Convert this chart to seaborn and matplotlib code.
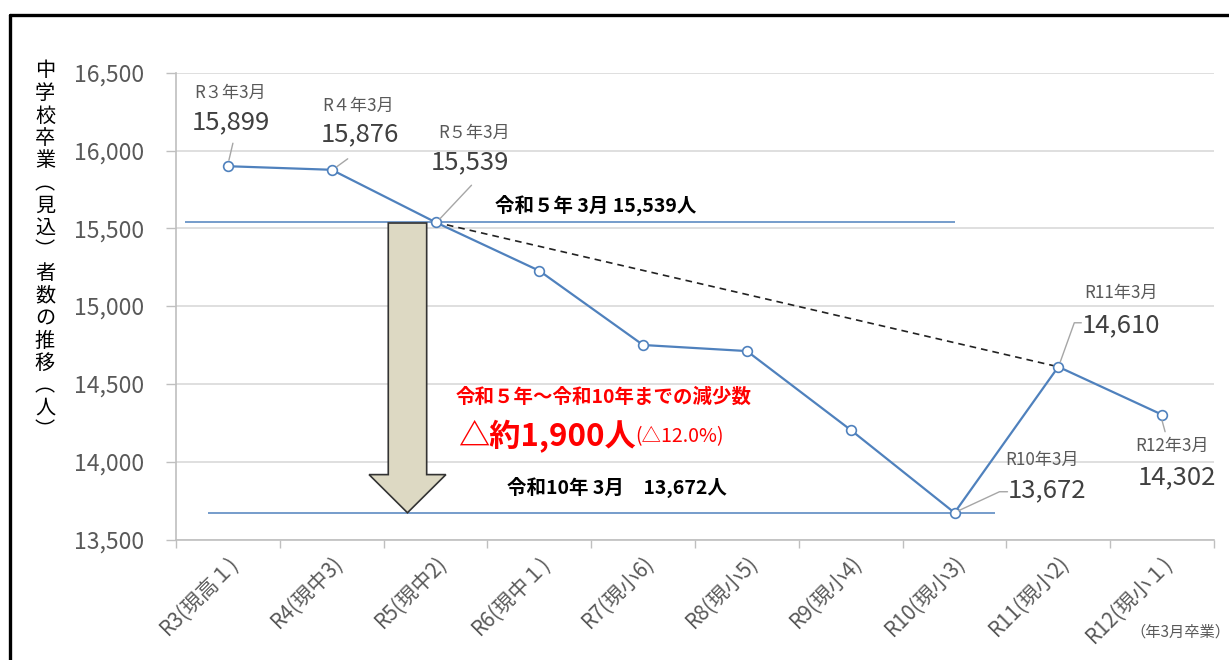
import matplotlib
matplotlib.use("Agg")
import matplotlib.pyplot as plt
import matplotlib.transforms as mtransforms
import seaborn as sns
import pandas as pd
from matplotlib.patches import FancyArrow
from matplotlib.lines import Line2D

# ---- data ----
categories = ["R3(現高１)", "R4(現中3)", "R5(現中2)", "R6(現中１)", "R7(現小6)",
              "R8(現小5)", "R9(現小4)", "R10(現小3)", "R11(現小2)", "R12(現小１)"]
students = [15899, 15876, 15539, 15227, 14750, 14711, 14204, 13672, 14610, 14302]
label_years = ["R３年3月", "R４年3月", "R５年3月", None, None, None, None,
               "R10年3月", "R11年3月", "R12年3月"]
trend_idx = [2, 8]          # dashed reference line R5 -> R11
ref_r5 = 15539
ref_r10 = 13672
yticks = [13500, 14000, 14500, 15000, 15500, 16000, 16500]

sns.set_theme(style="white")
plt.rcParams['font.family'] = ['Noto Sans CJK JP', 'DejaVu Sans']

BLUE = "#4F81BD"
GRAY = "#595959"
DGRAY = "#404040"

fig = plt.figure(figsize=(12.29, 6.6), dpi=100)
ax = fig.add_axes([176/1229, 1-539.5/660, (1214-176)/1229, (539.5-72.7)/660])

df = pd.DataFrame({"x": range(len(categories)), "y": students})
sns.lineplot(data=df, x="x", y="y", ax=ax, color=BLUE, lw=1.6, marker="o",
             markersize=7, markerfacecolor="white", markeredgecolor=BLUE,
             markeredgewidth=1.2, zorder=5)

# dashed trend line
ax.plot([trend_idx[0], trend_idx[1]], [students[trend_idx[0]], students[trend_idx[1]]],
        ls=(0, (4, 3)), color="#222222", lw=1.2, zorder=4)

# horizontal reference lines
ax.hlines(ref_r5, -0.41, 7.0, color=BLUE, lw=1.1, zorder=3)
ax.hlines(ref_r10, -0.19, 7.39, color=BLUE, lw=1.1, zorder=3)

# down arrow
ax.add_patch(FancyArrow(1.73, ref_r5 - 5, 0, ref_r10 - ref_r5 + 5, width=0.37,
                        head_width=0.74, head_length=245, length_includes_head=True,
                        facecolor="#DDD9C3", edgecolor="#333333", lw=1.2, zorder=6))

# axes styling
ax.set_xlim(-0.5, len(categories) - 0.5)
ax.set_ylim(yticks[0], yticks[-1])
ax.set_yticks(yticks)
ax.set_yticklabels([f"{v:,}" for v in yticks], fontsize=16.5, color=GRAY)
ax.yaxis.grid(True, color="#D9D9D9", lw=1.2)
ax.set_axisbelow(True)
ax.set_xticks(range(len(categories)))
ax.set_xticklabels(categories, rotation=45, ha="right", rotation_mode="anchor",
                   fontsize=15, color=GRAY)
ax.tick_params(axis="x", length=0, pad=9)
ax.tick_params(axis="y", length=7, color="#BFBFBF", width=1, direction="out", left=True, pad=16)
# category boundary ticks
ax.set_xticks([i - 0.5 for i in range(len(categories) + 1)], minor=True)
ax.tick_params(axis="x", which="minor", length=6, color="#BFBFBF", width=1, bottom=True)
for s in ["top", "right"]:
    ax.spines[s].set_visible(False)
for s in ["left", "bottom"]:
    ax.spines[s].set_color("#BFBFBF")
    ax.spines[s].set_linewidth(1.2)
ax.set_xlabel("")
ax.set_ylabel("")

# data labels (offsets in pixels relative to the point; y upward)
offsets = {
    0: ((2, 73), (3, 44), [(1, 6), (5, 23)]),
    1: ((26, 64), (28, 36), [(5, 3), (16, 11)]),
    2: ((39, 89), (34, 60), [(4, 3), (36, 37)]),
    7: ((88, 53), (93, 22), [(4, 2), (45, 21), (53, 21)]),
    8: ((63, 74), (63, 42), [(2, 5), (16, 44), (23, 44)]),
    9: ((10, -31), (15, -63), [(0, -6), (3, -17)]),
}
for i, (lo, vo, leader) in offsets.items():
    ax.annotate(label_years[i], (i, students[i]), xytext=lo, textcoords="offset pixels",
                ha="center", va="center", fontsize=12.3, color=GRAY, zorder=7)
    ax.annotate(f"{students[i]:,}", (i, students[i]), xytext=vo, textcoords="offset pixels",
                ha="center", va="center", fontsize=18.5, color=DGRAY, zorder=7)
    trans = mtransforms.IdentityTransform() + mtransforms.ScaledTranslation(i, students[i], ax.transData)
    xs = [p[0] for p in leader]
    ys = [p[1] for p in leader]
    ax.add_line(Line2D(xs, ys, color="#A6A6A6", lw=1, transform=trans, zorder=6))

# bold black labels for reference lines
ax.text(3.54, 15650, "令和５年 3月 15,539人", ha="center", va="center",
        fontsize=14, fontweight="bold", color="black", zorder=7)
ax.text(3.75, 13837, "令和10年 3月　13,672人", ha="center", va="center",
        fontsize=14, fontweight="bold", color="black", zorder=7)

# red annotation
ax.text(3.62, 14416, "令和５年～令和10年までの減少数", ha="center", va="center",
        fontsize=14, fontweight="bold", color="#FF0000", zorder=7)
t1 = ax.text(2.215, 14159, "△約1,900人", ha="left", va="center",
             fontsize=22.5, fontweight="bold", color="#FF0000", zorder=7)
ax.annotate("(△12.0%)", xy=(1, 0.2), xycoords=t1, ha="left", va="bottom",
            fontsize=14, color="#FF0000", zorder=7)

# note
fig.text(1180/1229, 1-632/660, "（年3月卒業）", ha="center", va="center",
         fontsize=11, color=GRAY)

# vertical y-axis title
ytitle = "中学校卒業︵見込︶者数の推移︵人︶"
for k, ch in enumerate(ytitle):
    fig.text(45/1229, 1-(71 + 22.5*k)/660, ch, ha="center", va="center",
             fontsize=14.5, color="black")

# outer frame
fig.add_artist(Line2D([10/1229, 10/1229], [0, 1-15/660], color="black", lw=2.4,
                      transform=fig.transFigure))
fig.add_artist(Line2D([10/1229, 1], [1-15/660, 1-15/660], color="black", lw=2.4,
                      transform=fig.transFigure))

fig.savefig("out.png", dpi=100)
